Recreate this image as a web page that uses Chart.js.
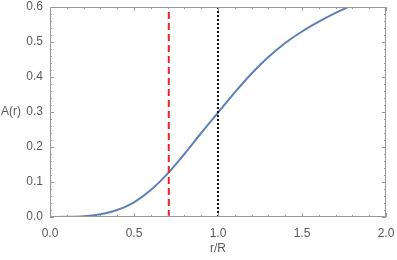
<!DOCTYPE html>
<html>
<head>
<meta charset="utf-8">
<script src="https://cdn.jsdelivr.net/npm/chart.js@4"></script>
<style>
  html, body { margin: 0; padding: 0; background: #fff; }
  #wrap { width: 397px; height: 260px; }
</style>
</head>
<body>
<div id="wrap"><canvas id="areaChart"></canvas></div>
<script>
// values
const rValues = [0, 0.1, 0.2, 0.3, 0.4, 0.5, 0.6, 0.7, 0.8, 0.9, 1.0, 1.1, 1.2, 1.3, 1.4, 1.5, 1.6, 1.7, 1.8];
const aValues = [0, 0.0005, 0.002, 0.008, 0.02, 0.042, 0.077, 0.124, 0.18, 0.24, 0.298, 0.356, 0.41, 0.457, 0.497, 0.53, 0.558, 0.583, 0.606];
const redLineX = 0.707;
const blackLineX = 1.0;
const xTicks = [0, 0.5, 1.0, 1.5, 2.0];
const yTicks = [0, 0.1, 0.2, 0.3, 0.4, 0.5, 0.6];

const labelColor = '#5a5a5a';
const frameColor = '#999';
const font = { family: 'Liberation Sans', size: 12 };

const curve = rValues.map((r, i) => ({ x: r, y: aValues[i] }));
const vline = x => [{ x: x, y: 0 }, { x: x, y: 0.6 }];

// frame with inward ticks on all four sides
const framePlugin = {
  id: 'frame',
  afterDatasetsDraw(chart) {
    const { ctx, chartArea: a, scales } = chart;
    const xs = scales.x, ys = scales.y;
    ctx.save();
    ctx.strokeStyle = frameColor;
    ctx.lineWidth = 1;
    ctx.strokeRect(a.left + 0.5, a.top + 0.5, a.right - a.left - 1, a.bottom - a.top - 1);
    ctx.beginPath();
    for (let i = 0; i <= 20; i++) {
      const v = i * 0.1;
      const len = i % 5 === 0 ? 4 : 2;
      const px = Math.round(xs.getPixelForValue(v)) + 0.5;
      ctx.moveTo(px, a.bottom); ctx.lineTo(px, a.bottom - len);
      ctx.moveTo(px, a.top); ctx.lineTo(px, a.top + len);
    }
    for (let i = 0; i <= 30; i++) {
      const v = i * 0.02;
      const len = i % 5 === 0 ? 4 : 2;
      const py = Math.round(ys.getPixelForValue(v)) + 0.5;
      ctx.moveTo(a.left, py); ctx.lineTo(a.left + len, py);
      ctx.moveTo(a.right, py); ctx.lineTo(a.right - len, py);
    }
    ctx.stroke();
    // horizontal y title
    ctx.fillStyle = labelColor;
    ctx.font = '12px "Liberation Sans"';
    ctx.textAlign = 'left';
    ctx.textBaseline = 'middle';
    ctx.fillText('A(r)', 1, (a.top + a.bottom) / 2);
    ctx.restore();
  }
};

new Chart(document.getElementById('areaChart'), {
  type: 'scatter',
  data: {
    datasets: [
      {
        data: curve,
        showLine: true,
        borderColor: '#5e81b5',
        borderWidth: 2,
        pointRadius: 0,
        cubicInterpolationMode: 'monotone',
        order: 3
      },
      {
        data: vline(redLineX),
        showLine: true,
        borderColor: '#e8242a',
        borderWidth: 2,
        borderDash: [7, 4],
        pointRadius: 0,
        order: 1
      },
      {
        data: vline(blackLineX),
        showLine: true,
        borderColor: '#111',
        borderWidth: 2,
        borderDash: [2, 2],
        pointRadius: 0,
        order: 2
      }
    ]
  },
  options: {
    responsive: true,
    maintainAspectRatio: false,
    animation: false,
    layout: { padding: { top: 7, right: 11, left: 0, bottom: 0 } },
    plugins: { legend: { display: false }, tooltip: { enabled: false } },
    scales: {
      x: {
        type: 'linear',
        min: 0, max: 2,
        afterBuildTicks: s => { s.ticks = xTicks.map(v => ({ value: v })); },
        afterFit: s => { s.height = 43; s.paddingLeft = 0; s.paddingRight = 0; },
        grid: { display: false, drawTicks: false, tickLength: 0 },
        border: { display: false },
        ticks: { color: labelColor, font: font, padding: 9, maxRotation: 0,
                 callback: v => v.toFixed(1) },
        title: { display: true, text: 'r/R', color: labelColor, font: font, padding: { top: 10 } }
      },
      y: {
        min: 0, max: 0.6,
        afterBuildTicks: s => { s.ticks = yTicks.map(v => ({ value: v })); },
        afterFit: s => { s.width = 50; s.paddingTop = 0; s.paddingBottom = 0; },
        grid: { display: false, drawTicks: false, tickLength: 0 },
        border: { display: false },
        ticks: { color: labelColor, font: font, padding: 7,
                 callback: v => v.toFixed(1) }
      }
    }
  },
  plugins: [framePlugin]
});
</script>
</body>
</html>
